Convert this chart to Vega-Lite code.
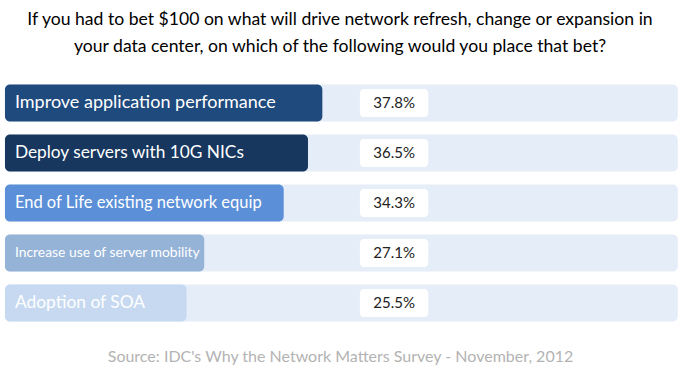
{
  "$schema": "https://vega.github.io/schema/vega-lite/v6.json",
  "autosize": {"type": "none"},
  "padding": {"top": 78, "left": 0, "right": 0, "bottom": 53},
  "width": 680,
  "height": 250,
  "background": "white",
  "config": {"view": {"stroke": null}, "font": "Lato"},
  "title": {
    "text": ["If you had to bet $100 on what will drive network refresh, change or expansion in", "your data center, on which of the following would you place that bet?"],
    "anchor": "middle",
    "font": "Lato",
    "fontSize": 17.6,
    "fontWeight": "normal",
    "color": "#000000",
    "lineHeight": 27,
    "offset": 22
  },
  "data": {
    "values": [
      {"label": "Improve application performance", "value": 37.8, "valueLabel": "37.8%"},
      {"label": "Deploy servers with 10G NICs", "value": 36.5, "valueLabel": "36.5%"},
      {"label": "End of Life existing network equip", "value": 34.3, "valueLabel": "34.3%"},
      {"label": "Increase use of server mobility", "value": 27.1, "valueLabel": "27.1%"},
      {"label": "Adoption of SOA", "value": 25.5, "valueLabel": "25.5%"}
    ]
  },
  "encoding": {
    "y": {
      "field": "label",
      "type": "nominal",
      "sort": null,
      "scale": {"paddingInner": 0.26, "paddingOuter": 0.13},
      "axis": null
    }
  },
  "layer": [
    {
      "mark": {"type": "bar", "cornerRadius": 5, "color": "#e5edf8"},
      "encoding": {
        "x": {
          "datum": 9.05,
          "type": "quantitative",
          "scale": {"domain": [8.6, 70.2], "zero": false, "nice": false},
          "axis": {
            "orient": "bottom",
            "labels": false,
            "ticks": false,
            "domain": false,
            "grid": false,
            "title": "Source: IDC's Why the Network Matters Survey - November, 2012",
            "titleFont": "Lato",
            "titleFontSize": 16,
            "titleFontWeight": "normal",
            "titleColor": "#b3b3b3",
            "titlePadding": 20
          }
        },
        "x2": {"datum": 70}
      }
    },
    {
      "mark": {"type": "bar", "cornerRadius": 5},
      "encoding": {
        "x": {"field": "value", "type": "quantitative"},
        "x2": {"datum": 9.05},
        "color": {
          "field": "label",
          "type": "nominal",
          "scale": {
            "domain": ["Improve application performance", "Deploy servers with 10G NICs", "End of Life existing network equip", "Increase use of server mobility", "Adoption of SOA"],
            "range": ["#1f4a7e", "#17375e", "#5b8fd7", "#95b3d7", "#c6d9f1"]
          },
          "legend": null
        }
      }
    },
    {
      "mark": {"type": "bar", "cornerRadius": 4, "color": "white", "height": {"band": 0.76}},
      "encoding": {
        "x": {"datum": 41.2, "type": "quantitative"},
        "x2": {"datum": 47.4}
      }
    },
    {
      "mark": {"type": "text", "align": "center", "baseline": "middle", "fontSize": 15, "color": "#222222", "font": "Lato"},
      "encoding": {
        "x": {"datum": 44.3, "type": "quantitative"},
        "text": {"field": "valueLabel"}
      }
    },
    {
      "mark": {"type": "text", "align": "left", "baseline": "middle", "color": "white", "font": "Lato"},
      "encoding": {
        "x": {"datum": 9.95, "type": "quantitative"},
        "text": {"field": "label"},
        "size": {
          "field": "label",
          "type": "nominal",
          "scale": {
            "type": "ordinal",
            "domain": ["Improve application performance", "Deploy servers with 10G NICs", "End of Life existing network equip", "Increase use of server mobility", "Adoption of SOA"],
            "range": [18, 17.3, 16.5, 13.9, 17.4]
          },
          "legend": null
        }
      }
    }
  ]
}
